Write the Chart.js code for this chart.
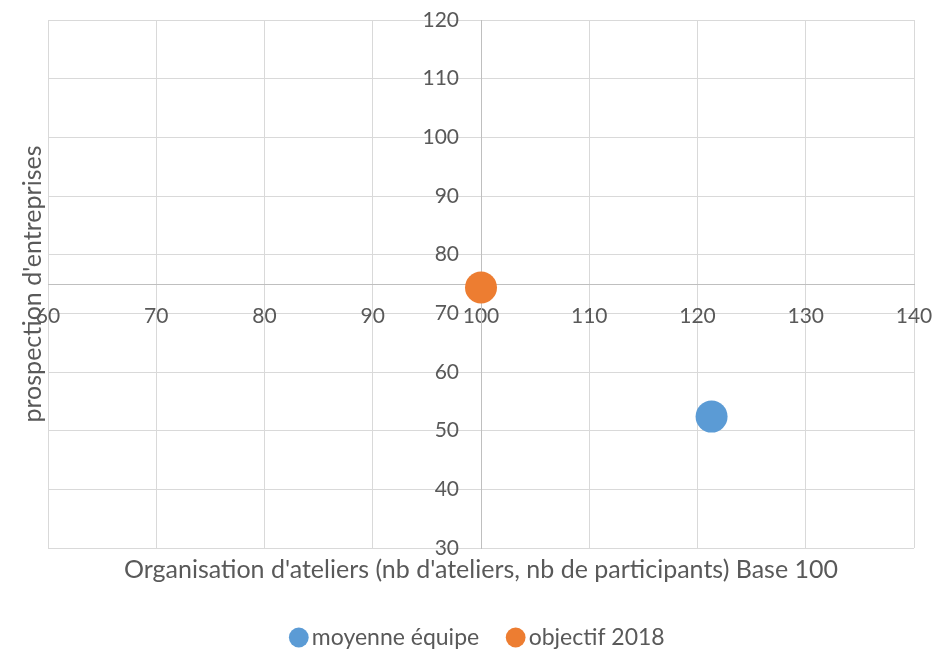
<!DOCTYPE html>
<html lang="fr">
<head>
<meta charset="utf-8">
<title>Prospection / ateliers</title>
<script src="https://cdn.jsdelivr.net/npm/chart.js@4"></script>
<style>
  html, body { margin: 0; padding: 0; background: #fff; }
</style>
</head>
<body>
<canvas id="chartCanvas" width="937" height="651"></canvas>
<script>
// séries du nuage de points
const seriesLabels = ['moyenne équipe', 'objectif 2018'];
const xValues = [121.3, 100];
const yValues = [52.4, 74.4];

// graduations des axes
const xTicks = [60, 70, 80, 90, 100, 110, 120, 130, 140];
const yTicks = [30, 40, 50, 60, 70, 80, 90, 100, 110, 120];
const xCross = 100;   // l'axe vertical passe par x = 100
const yCross = 75;    // l'axe horizontal passe par y = 75

const xTitle = "Organisation d'ateliers (nb d'ateliers, nb de participants) Base 100";
const yTitle = "prospection d'entreprises";

const seriesColors = ['#5b9bd5', '#ed7d31'];
const textColor = '#595959';
const gridColor = '#d9d9d9';
const axisColor = '#bfbfbf';
const tickFont = { family: 'Lato', size: 21 };

Chart.defaults.font.family = 'Lato, "Open Sans", sans-serif';
Chart.defaults.color = textColor;

// étiquettes de l'axe vertical : Chart.js ignore ticks.padding quand l'axe
// est placé sur une valeur, on les écrit donc à gauche de la ligne x = 100
const yLabelsPlugin = {
  id: 'yLabels',
  beforeDatasetsDraw(chart) {
    const { ctx, scales } = chart;
    const xPix = scales.x.getPixelForValue(xCross) - 22;
    ctx.save();
    ctx.font = `${tickFont.size}px ${tickFont.family}`;
    ctx.fillStyle = textColor;
    ctx.textAlign = 'right';
    ctx.textBaseline = 'middle';
    yTicks.forEach(v => ctx.fillText(String(v), xPix, scales.y.getPixelForValue(v)));
    ctx.restore();
  }
};

const ctx = document.getElementById("chartCanvas").getContext("2d");

// un jeu de données par série (un seul point chacun)
const datasets = seriesLabels.map((label, i) => ({
  label: label,
  data: [{ x: xValues[i], y: yValues[i] }],
  backgroundColor: seriesColors[i],
  borderColor: seriesColors[i],
  borderWidth: 0,
  pointRadius: 16,
  pointHoverRadius: 16,
  pointStyle: 'circle'
}));

window.currentChart = new Chart(ctx, {
  type: 'scatter',
  data: { datasets: datasets },
  plugins: [yLabelsPlugin],
  options: {
    responsive: false,
    animation: false,
    events: [],
    layout: { padding: { left: 0, top: 20, right: 23, bottom: -8 } },
    plugins: {
      tooltip: { enabled: false },
      legend: {
        position: 'bottom',
        fullSize: false,
        labels: {
          usePointStyle: true,
          boxWidth: 3,
          boxHeight: 14,
          padding: 35,
          color: textColor,
          font: { size: 23 }
        }
      }
    },
    scales: {
      x: {
        type: 'linear',
        min: xTicks[0],
        max: xTicks[xTicks.length - 1],
        position: { y: yCross },
        afterBuildTicks: s => { s.ticks = xTicks.map(v => ({ value: v })); },
        // l'écart sous l'axe passe par des graduations invisibles
        ticks: { autoSkip: false, maxRotation: 0, padding: 0, color: textColor, font: tickFont },
        grid: { color: gridColor, drawTicks: true, tickLength: 20, tickColor: 'rgba(0,0,0,0)' },
        border: { color: axisColor }
      },
      y: {
        type: 'linear',
        min: yTicks[0],
        max: yTicks[yTicks.length - 1],
        position: { x: xCross },
        afterBuildTicks: s => { s.ticks = yTicks.map(v => ({ value: v })); },
        ticks: { display: false },
        grid: { color: gridColor, drawTicks: false },
        border: { color: axisColor }
      },
      // axes vides : ils ne portent que les titres, en bas et à gauche
      xTitle: {
        type: 'linear',
        position: 'bottom',
        grid: { display: false, drawTicks: false },
        border: { display: false },
        ticks: { display: false },
        title: { display: true, text: xTitle, color: textColor, font: { size: 25 }, padding: { top: 7, bottom: 6 } }
      },
      yTitle: {
        type: 'linear',
        position: 'left',
        grid: { display: false, drawTicks: false },
        border: { display: false },
        ticks: { display: false },
        title: { display: true, text: yTitle, color: textColor, font: { size: 25 }, padding: { top: 18, bottom: 0 } }
      }
    }
  }
});
</script>
</body>
</html>
